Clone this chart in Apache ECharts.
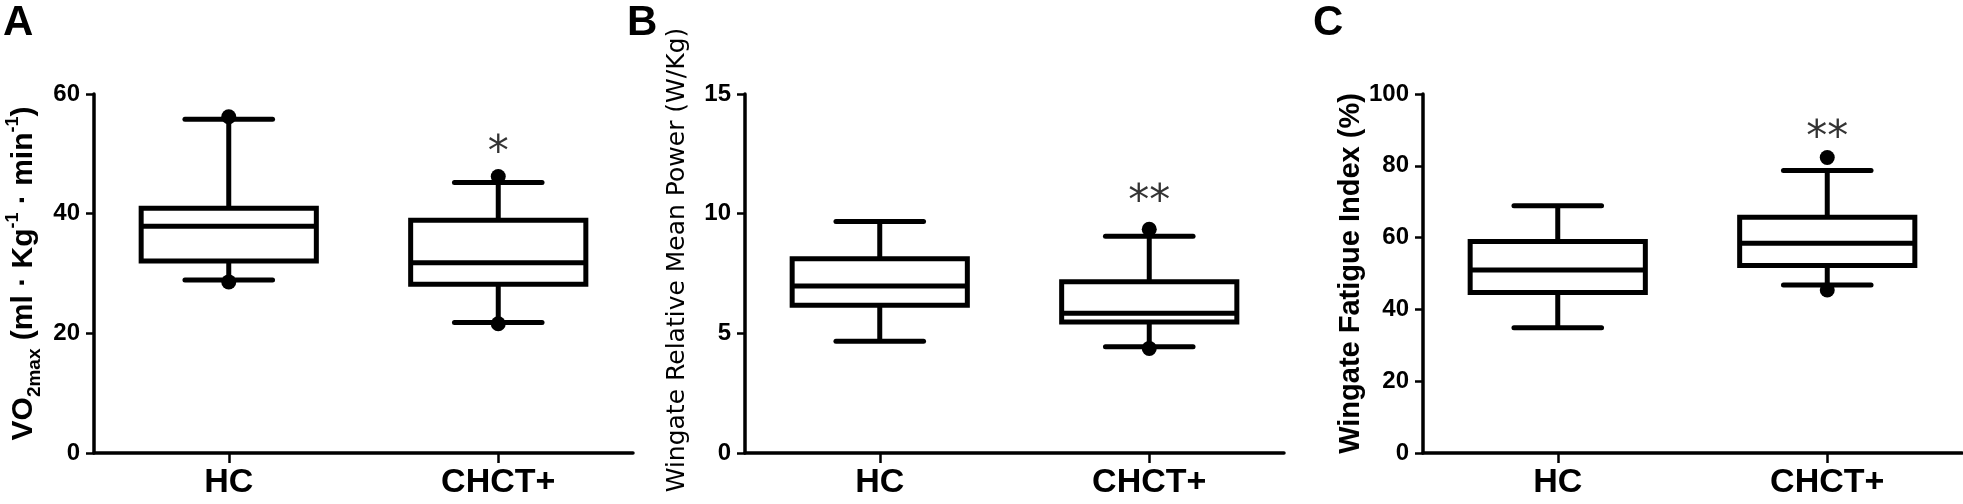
<!DOCTYPE html>
<html>
<head>
<meta charset="utf-8">
<script src="https://cdn.jsdelivr.net/npm/echarts@6/dist/echarts.min.js"></script>
<style>
  html, body { margin: 0; padding: 0; background: #fff; }
  #chart { width: 1963px; height: 504px; }
</style>
</head>
<body>
<div id="chart"></div>
<script>
// ---- data ----
const categories = ['HC', 'CHCT+'];
const panelLetters = ['A', 'B', 'C'];

// box values per group: [min, Q1, median, Q3, max]
const vo2Box = [[28.9, 32.1, 37.9, 40.9, 55.8], [21.8, 28.2, 31.8, 38.9, 45.2]];
const powerBox = [[4.67, 6.17, 6.98, 8.12, 9.67], [4.44, 5.47, 5.84, 7.16, 9.06]];
const fatigueBox = [[34.9, 44.7, 51.0, 58.9, 68.9], [46.8, 52.2, 58.4, 65.7, 78.7]];

// outlier dots: [category index, value]
const vo2Dots = [[0, 56.2], [0, 28.6], [1, 46.2], [1, 21.6]];
const powerDots = [[1, 9.35], [1, 4.37]];
const fatigueDots = [[1, 82.3], [1, 45.4]];

// significance markers: [category index, value, text]
const vo2Sig = [[1, 51.8, '*']];
const powerSig = [[1, 10.9, '**']];
const fatigueSig = [[1, 90.5, '**']];

// y axis ranges: [min, max, interval]
const vo2Axis = [0, 60, 20];
const powerAxis = [0, 15, 5];
const fatigueAxis = [0, 100, 20];

// ---- chart ----
const FONT = 'Liberation Sans, Arial, sans-serif';
const grids = [
  { left: 94, top: 94, width: 539, height: 359 },
  { left: 745, top: 94, width: 539, height: 359 },
  { left: 1423, top: 94, width: 539, height: 359 }
];

function renderBox(params, api) {
  const ci = api.value(0);
  const lo = api.coord([ci, api.value(1)]);
  const q1 = api.coord([ci, api.value(2)]);
  const md = api.coord([ci, api.value(3)]);
  const q3 = api.coord([ci, api.value(4)]);
  const hi = api.coord([ci, api.value(5)]);
  const band = api.size([1, 0])[0];
  const bw = band * 0.65;
  const cw = band * 0.325;
  const cx = lo[0];
  const ls = { stroke: '#000', lineWidth: 5, lineCap: 'round' };
  return {
    type: 'group',
    children: [
      { type: 'line', shape: { x1: cx, y1: q3[1], x2: cx, y2: hi[1] }, style: { stroke: '#000', lineWidth: 5 } },
      { type: 'line', shape: { x1: cx, y1: q1[1], x2: cx, y2: lo[1] }, style: { stroke: '#000', lineWidth: 5 } },
      { type: 'line', shape: { x1: cx - cw / 2, y1: hi[1], x2: cx + cw / 2, y2: hi[1] }, style: ls },
      { type: 'line', shape: { x1: cx - cw / 2, y1: lo[1], x2: cx + cw / 2, y2: lo[1] }, style: ls },
      { type: 'rect', shape: { x: cx - bw / 2, y: q3[1], width: bw, height: q1[1] - q3[1] },
        style: { fill: '#fff', stroke: '#000', lineWidth: 5, lineJoin: 'miter' } },
      { type: 'line', shape: { x1: cx - bw / 2, y1: md[1], x2: cx + bw / 2, y2: md[1] }, style: { stroke: '#000', lineWidth: 5 } }
    ]
  };
}

function boxData(arr) {
  return arr.map((b, i) => [i].concat(b));
}

const yNames = [
  '{m|VO}{s|2max}{m| (ml · Kg}{p|-1}{m| · min}{p|-1}{m|)}',
  'Wingate Relative Mean Power (W/Kg)',
  'Wingate Fatigue Index (%)'
];
const yNameStyles = [
  {
    color: '#000',
    rich: {
      m: { fontSize: 30, fontWeight: 'bold', fontFamily: FONT, lineHeight: 40, verticalAlign: 'middle', color: '#000' },
      s: { fontSize: 19, fontWeight: 'bold', fontFamily: FONT, lineHeight: 19, verticalAlign: 'bottom', color: '#000' },
      p: { fontSize: 18, fontWeight: 'bold', fontFamily: FONT, lineHeight: 24, verticalAlign: 'top', color: '#000' }
    }
  },
  { fontSize: 25, fontWeight: 'normal', fontFamily: 'DejaVu Sans', color: '#000', padding: [0, 0, 0, 27] },
  { fontSize: 29, fontWeight: 'bold', fontFamily: FONT, color: '#000' }
];
const yNameGaps = [50, 55, 55];
const axes = [vo2Axis, powerAxis, fatigueAxis];
const boxes = [vo2Box, powerBox, fatigueBox];
const dots = [vo2Dots, powerDots, fatigueDots];
const sigs = [vo2Sig, powerSig, fatigueSig];

const xAxis = [], yAxis = [], series = [];
for (let i = 0; i < 3; i++) {
  xAxis.push({
    type: 'category', gridIndex: i, data: categories,
    axisLine: { show: true, lineStyle: { color: '#000', width: 3.5 } },
    axisTick: { show: true, alignWithLabel: true, length: 10, lineStyle: { color: '#000', width: 2.5 } },
    axisLabel: { color: '#000', fontSize: 34, fontWeight: 'bold', fontFamily: FONT, margin: 13 },
    splitLine: { show: false }
  });
  yAxis.push({
    type: 'value', gridIndex: i,
    min: axes[i][0], max: axes[i][1], interval: axes[i][2],
    name: yNames[i], nameLocation: 'middle', nameRotate: 90, nameGap: yNameGaps[i],
    nameTextStyle: yNameStyles[i],
    axisLine: { show: true, lineStyle: { color: '#000', width: 3.5 } },
    axisTick: { show: true, length: 8, lineStyle: { color: '#000', width: 2.5 } },
    axisLabel: { color: '#000', fontSize: 24, fontWeight: 'bold', fontFamily: FONT, margin: 14 },
    splitLine: { show: false }
  });
  series.push({
    type: 'custom', xAxisIndex: i, yAxisIndex: i,
    renderItem: renderBox,
    encode: { x: 0, y: [1, 2, 3, 4, 5] },
    data: boxData(boxes[i]),
    z: 2
  });
  series.push({
    type: 'scatter', xAxisIndex: i, yAxisIndex: i,
    symbol: 'circle', symbolSize: 15,
    itemStyle: { color: '#000', opacity: 1 },
    data: dots[i],
    z: 5
  });
  series.push({
    type: 'scatter', xAxisIndex: i, yAxisIndex: i,
    symbol: 'circle', symbolSize: 1,
    itemStyle: { color: 'rgba(0,0,0,0)' },
    label: {
      show: true, position: 'inside', offset: [0, 11],
      formatter: (p) => p.data[2],
      fontSize: 42, fontFamily: 'DejaVu Sans', color: '#000'
    },
    data: sigs[i],
    z: 5
  });
}

const letterX = [3, 627, 1313];
const graphic = panelLetters.map((t, i) => ({
  type: 'text', left: letterX[i], top: 2,
  style: { text: t, font: 'bold 42px ' + FONT, fill: '#000' }
}));

const chart = echarts.init(document.getElementById('chart'), null, { renderer: 'canvas' });
chart.setOption({
  backgroundColor: '#fff',
  animation: false,
  grid: grids,
  xAxis: xAxis,
  yAxis: yAxis,
  series: series,
  graphic: graphic
});
</script>
</body>
</html>
